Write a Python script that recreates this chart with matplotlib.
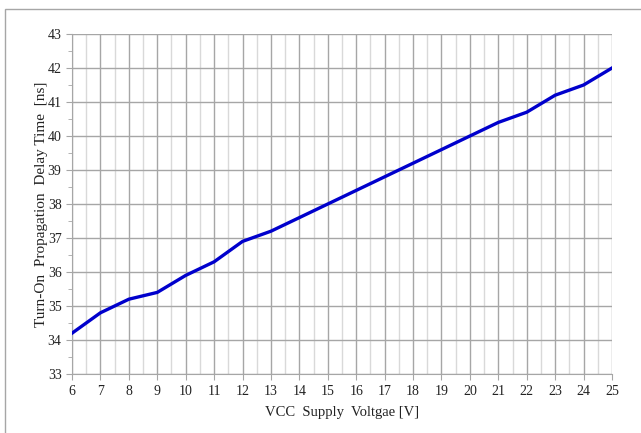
import matplotlib
matplotlib.use("Agg")
import matplotlib.pyplot as plt
from matplotlib.ticker import MultipleLocator
from matplotlib.patches import Rectangle

vcc = [6, 7, 8, 9, 10, 11, 12, 13, 14, 15, 16, 17, 18, 19, 20, 21, 22, 23, 24, 25]
delay = [34.2, 34.8, 35.2, 35.4, 35.9, 36.3, 36.9, 37.2, 37.6, 38.0, 38.4, 38.8,
         39.2, 39.6, 40.0, 40.4, 40.7, 41.2, 41.5, 42.0]

plt.rcParams['font.family'] = ['Liberation Serif', 'DejaVu Serif']

fig = plt.figure(figsize=(6.41, 4.33), dpi=100)
fig.patches.append(Rectangle((5/641, -0.1), 1.2, 1 - 9/433 + 0.1, transform=fig.transFigure,
                             fill=False, edgecolor='#a6a6a6', linewidth=1.0))
ax = fig.add_axes([72/641, 59/433, 540/641, 340/433])

ax.set_xlim(6, 25)
ax.set_ylim(33, 43)
ax.xaxis.set_major_locator(MultipleLocator(1))
ax.xaxis.set_minor_locator(MultipleLocator(0.5))
ax.yaxis.set_major_locator(MultipleLocator(1))
ax.yaxis.set_minor_locator(MultipleLocator(0.5))

ax.grid(which='major', axis='both', color='#a6a6a6', linewidth=1.0)
ax.grid(which='minor', axis='x', color='#d9d9d9', linewidth=1.0)
ax.set_axisbelow(True)

ax.plot(vcc, delay, color='#0000cc', linewidth=2.4, solid_joinstyle='round', zorder=3)

for s in ['top', 'right']:
    ax.spines[s].set_visible(False)
for s in ['left', 'bottom']:
    ax.spines[s].set_color('#a6a6a6')
ax.tick_params(which='major', direction='out', length=4, color='#a6a6a6', labelsize=10, labelcolor='#222222')
ax.tick_params(axis='x', which='major', pad=4)
ax.tick_params(which='minor', direction='out', length=3, color='#a6a6a6')
ax.tick_params(axis='x', which='minor', length=0)

ax.set_xlabel('VCC  Supply  Voltgae [V]', fontsize=10.5, color='#222222', labelpad=6)
ax.set_ylabel('Turn-On  Propagation  Delay Time  [ns]', fontsize=11, color='#222222', labelpad=0)

fig.savefig('out.png', dpi=100)
